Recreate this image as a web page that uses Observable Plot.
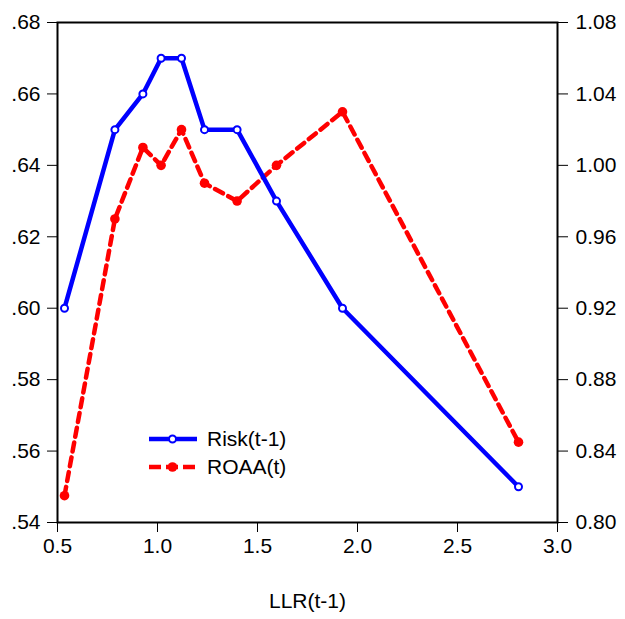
<!DOCTYPE html>
<html>
<head>
<meta charset="utf-8">
<script src="https://cdn.jsdelivr.net/npm/d3@7"></script>
<script src="https://cdn.jsdelivr.net/npm/@observablehq/plot@0.6"></script>
<style>
  html, body { margin: 0; padding: 0; background: #fff; }
  #chart { position: relative; width: 625px; height: 619px; }
</style>
</head>
<body>
<div id="chart"></div>
<script>
const llr  = [0.535, 0.787, 0.927, 1.018, 1.12, 1.235, 1.398, 1.595, 1.925, 2.805];
const risk = [0.60, 0.65, 0.66, 0.67, 0.67, 0.65, 0.65, 0.63, 0.60, 0.55];
const roaa = [0.815, 0.97, 1.01, 1.00, 1.02, 0.99, 0.98, 1.00, 1.03, 0.845];
const xTicks = [0.5, 1.0, 1.5, 2.0, 2.5, 3.0];
const leftTicks = [0.54, 0.56, 0.58, 0.60, 0.62, 0.64, 0.66, 0.68];
const rightDomain = [0.80, 1.08];
const leftDomain = [0.54, 0.68];
const seriesNames = ["Risk(t-1)", "ROAA(t)"];

// map right-axis values onto left scale
const toLeft = d3.scaleLinear().domain(rightDomain).range(leftDomain);
const riskData = llr.map((x, i) => ({x, y: risk[i]}));
const roaaData = llr.map((x, i) => ({x, y: toLeft(roaa[i])}));

const BLUE = "#0000ff", RED = "#ff0000";
const font = "'Liberation Sans', Arial, sans-serif";
const FS = 21;

const plot = Plot.plot({
  width: 625,
  height: 619,
  marginLeft: 57,
  marginRight: 68,
  marginTop: 22,
  marginBottom: 97,
  style: {fontFamily: font, fontSize: FS + "px", color: "#000", background: "#fff"},
  x: {domain: [0.5, 3.0]},
  y: {domain: leftDomain},
  marks: [
    Plot.axisX({ticks: xTicks, tickFormat: d3.format(".1f"), tickSize: 10, tickPadding: 6, label: null, fontSize: FS, strokeWidth: 1}),
    Plot.axisY({anchor: "left", ticks: leftTicks, tickFormat: d => d3.format(".2f")(d).replace(/^0\./, "."), tickSize: 10, tickPadding: 7, label: null, fontSize: FS, strokeWidth: 1}),
    Plot.axisY({anchor: "right", ticks: leftTicks, tickFormat: d => d3.format(".2f")(toLeft.invert(d)), tickSize: 10, tickPadding: 8, label: null, fontSize: FS, strokeWidth: 1}),
    Plot.frame({stroke: "#000", strokeWidth: 2}),
    Plot.line(roaaData, {x: "x", y: "y", stroke: RED, strokeWidth: 4.5, strokeDasharray: "9,6"}),
    Plot.dot(roaaData, {x: "x", y: "y", r: 4.8, fill: RED, stroke: "none"}),
    Plot.line(riskData, {x: "x", y: "y", stroke: BLUE, strokeWidth: 4.5}),
    Plot.dot(riskData, {x: "x", y: "y", r: 3.5, fill: "#fff", stroke: BLUE, strokeWidth: 2}),
    Plot.text(["LLR(t-1)"], {frameAnchor: "bottom", dy: 85, fontSize: FS, fill: "#000"})
  ]
});

document.getElementById("chart").appendChild(plot);

// legend inside plot area
const svg = d3.select(plot);
const leg = svg.append("g").attr("transform", "translate(149,439)")
  .attr("font-family", font).attr("font-size", FS).attr("text-anchor", "start");
const items = [
  {name: seriesNames[0], color: BLUE, dash: null, open: true},
  {name: seriesNames[1], color: RED, dash: "12,5", open: false}
];
items.forEach((it, i) => {
  const g = leg.append("g").attr("transform", `translate(0,${i * 28})`);
  g.append("line").attr("x1", 0).attr("x2", 48).attr("y1", 0).attr("y2", 0)
    .attr("stroke", it.color).attr("stroke-width", 4.5)
    .attr("stroke-dasharray", it.dash);
  g.append("circle").attr("cx", 23.5).attr("cy", 0).attr("r", it.open ? 3.5 : 4.8)
    .attr("fill", it.open ? "#fff" : it.color).attr("stroke", it.open ? it.color : "none").attr("stroke-width", 2);
  g.append("text").attr("x", 58).attr("y", 0).attr("dy", "0.35em").attr("fill", "#000").text(it.name);
});
</script>
</body>
</html>
